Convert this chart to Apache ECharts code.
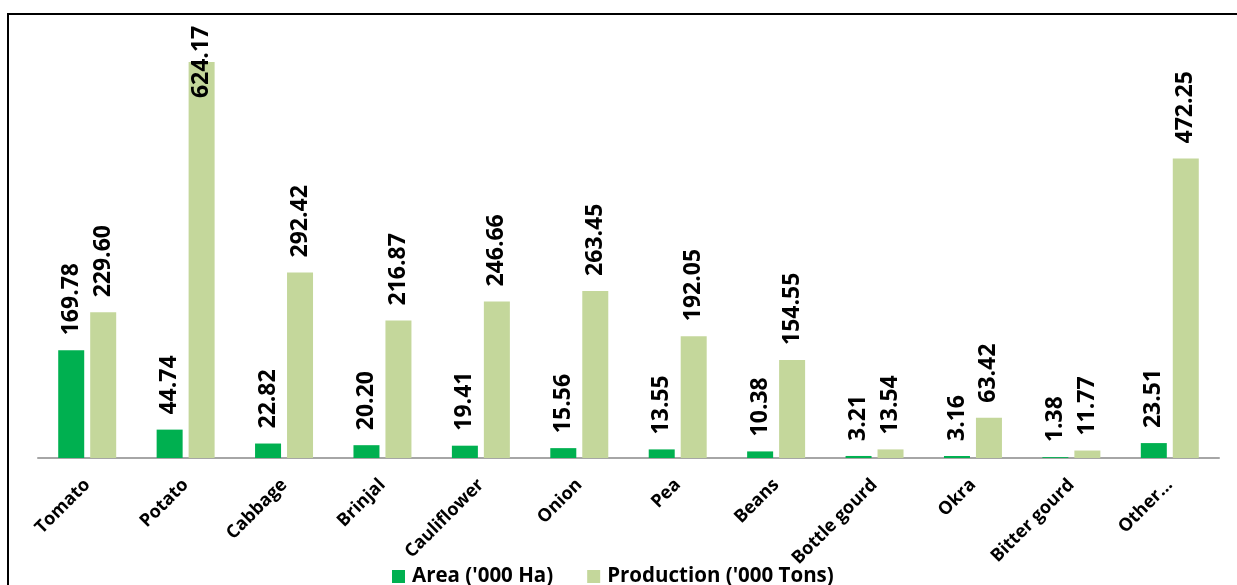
<!DOCTYPE html>
<html>
<head>
<meta charset="utf-8">
<script src="https://cdn.jsdelivr.net/npm/echarts@6/dist/echarts.min.js"></script>
<style>
  html, body { margin: 0; padding: 0; background: #fff; }
  #chart { width: 1237px; height: 585px; }
</style>
</head>
<body>
<div id="chart"></div>
<script>
// Vegetable crops: cultivated area and production
const categories = ['Tomato', 'Potato', 'Cabbage', 'Brinjal', 'Cauliflower', 'Onion', 'Pea', 'Beans', 'Bottle gourd', 'Okra', 'Bitter gourd', 'Other...'];
const areaValues = [169.78, 44.74, 22.82, 20.20, 19.41, 15.56, 13.55, 10.38, 3.21, 3.16, 1.38, 23.51];
const productionValues = [229.60, 624.17, 292.42, 216.87, 246.66, 263.45, 192.05, 154.55, 13.54, 63.42, 11.77, 472.25];
const seriesNames = ["Area ('000 Ha)", "Production ('000 Tons)"];

const FONT = '"Open Sans", sans-serif';
const Y_MAX = 700;

const valueLabel = {
  show: true,
  position: 'top',
  rotate: 90,
  align: 'left',
  verticalAlign: 'middle',
  distance: 15,
  fontFamily: FONT,
  fontWeight: 'bold',
  fontSize: 23,
  color: '#000',
  formatter: p => p.value.toFixed(2)
};

// Labels of very tall bars would run off the plot: pull them down onto the bar
function withFittedLabels(values) {
  return values.map(v => v > 600 ? { value: v, label: { position: [13, 36] } } : v);
}

const chart = echarts.init(document.getElementById('chart'), null, { renderer: 'canvas' });
chart.setOption({
  animation: false,
  backgroundColor: '#fff',
  graphic: [{
    type: 'rect',
    shape: { x: 8, y: 14, width: 1300, height: 700 },
    style: { fill: 'none', stroke: '#000', lineWidth: 2 },
    silent: true,
    z: 100
  }],
  grid: { left: 38, right: 18, top: 14, bottom: 127, containLabel: false },
  legend: {
    data: seriesNames,
    left: 387,
    top: 561,
    itemWidth: 13,
    itemHeight: 13,
    itemGap: 34,
    icon: 'rect',
    textStyle: { fontFamily: FONT, fontWeight: 'bold', fontSize: 20.5, color: '#000', padding: [0, 0, 0, 2] }
  },
  xAxis: {
    type: 'category',
    data: categories,
    axisLine: { lineStyle: { color: '#a6a6a6', width: 2 } },
    axisTick: { show: false },
    axisLabel: {
      rotate: 45,
      interval: 0,
      margin: 24,
      fontFamily: FONT,
      fontWeight: 'bold',
      fontSize: 18,
      color: '#000'
    }
  },
  yAxis: {
    type: 'value',
    min: 0,
    max: Y_MAX,
    show: false,
    splitLine: { show: false }
  },
  series: [
    {
      name: seriesNames[0],
      type: 'bar',
      data: withFittedLabels(areaValues),
      barWidth: 26,
      barGap: '23%',
      itemStyle: { color: '#00b050' },
      label: valueLabel
    },
    {
      name: seriesNames[1],
      type: 'bar',
      data: withFittedLabels(productionValues),
      barWidth: 26,
      itemStyle: { color: '#c4d79b' },
      label: valueLabel
    }
  ]
});
</script>
</body>
</html>
